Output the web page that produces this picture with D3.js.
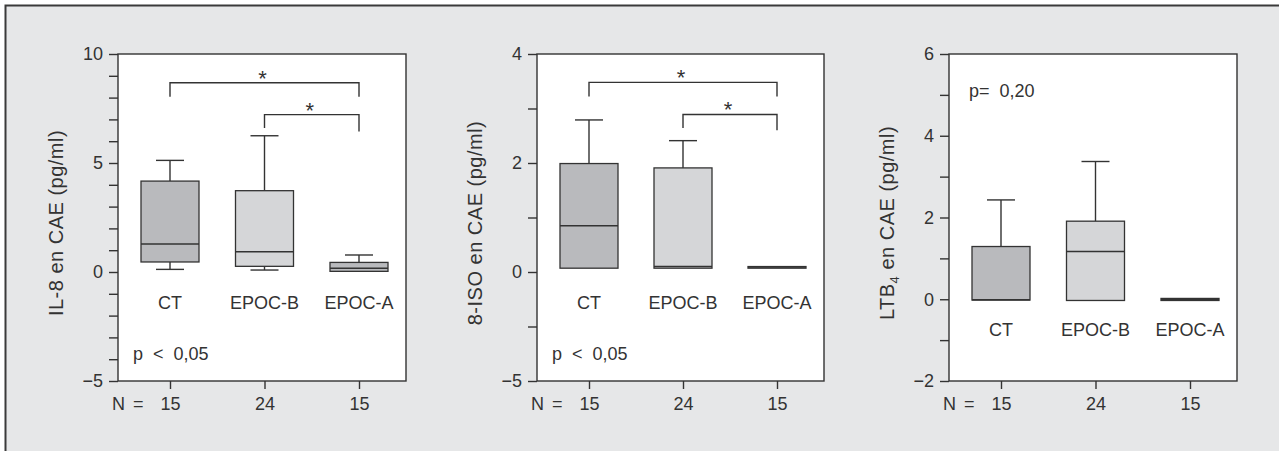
<!DOCTYPE html>
<html lang="es">
<head>
    <meta charset="UTF-8">
    <title>IL-8, 8-ISO y LTB4 en CAE</title>
    <script src="https://d3js.org/d3.v7.min.js"></script>
    <style>
        body { margin: 0; background: #fff; }
        text { font-family: "Liberation Sans", Arial, sans-serif; fill: #333; }
        .axis path, .axis line { stroke: #333; stroke-width: 1.4; }
        .axis text { font-size: 18px; fill: #333; }
    </style>
</head>
<body>
    <div id="chart"></div>

    <script>
        // Groups and sample sizes
        const groups = ["CT", "EPOC-B", "EPOC-A"];
        const nValues = [15, 24, 15];

        // IL-8 (pg/ml): whisker low, Q1, median, Q3, whisker high
        const il8Low = [0.12, 0.09, 0.03];
        const il8Q1 = [0.46, 0.26, 0.03];
        const il8Median = [1.28, 0.93, 0.17];
        const il8Q3 = [4.17, 3.73, 0.44];
        const il8High = [5.12, 6.25, 0.78];

        // 8-ISO (pg/ml)
        const isoLow = [0.07, 0.07, 0.07];
        const isoQ1 = [0.07, 0.07, 0.07];
        const isoMedian = [0.85, 0.10, 0.09];
        const isoQ3 = [1.99, 1.91, 0.10];
        const isoHigh = [2.79, 2.41, 0.10];

        // LTB4 (pg/ml)
        const ltbLow = [-0.02, -0.03, -0.03];
        const ltbQ1 = [-0.02, -0.03, -0.03];
        const ltbMedian = [-0.01, 1.17, 0.0];
        const ltbQ3 = [1.29, 1.91, 0.02];
        const ltbHigh = [2.43, 3.37, 0.02];

        // y domains and labelled ticks (the 8-ISO panel prints "–5" at its bottom tick)
        const il8Domain = [-5, 10];
        const il8TickValues = [10, 5, 0, -5];
        const il8TickLabels = ["10", "5", "0", "\u22125"];
        const isoDomain = [-2, 4];
        const isoTickValues = [4, 2, 0, -2];
        const isoTickLabels = ["4", "2", "0", "\u22125"];
        const ltbDomain = [-2, 6];
        const ltbTickValues = [6, 4, 2, 0, -2];
        const ltbTickLabels = ["6", "4", "2", "0", "\u22122"];

        // significance brackets: from group, to group, bar level, leg end at each side
        const il8Brackets = [
            ["CT", "EPOC-A", 8.68, 8.04, 8.04],
            ["EPOC-B", "EPOC-A", 7.22, 6.6, 6.45]
        ];
        const isoBrackets = [
            ["CT", "EPOC-A", 3.48, 3.22, 3.22],
            ["EPOC-B", "EPOC-A", 2.89, 2.64, 2.6]
        ];

        const fills = ["#b9babd", "#d5d6d8", "#b9babd"];

        const W = 1279, H = 451;
        const plotTop = 54, plotBottom = 381;

        const svg = d3.select("#chart")
            .append("svg")
            .attr("width", W)
            .attr("height", H);

        // gray background with frame on top and left
        svg.append("rect")
            .attr("x", 5).attr("y", 5)
            .attr("width", W).attr("height", H)
            .attr("fill", "#e6e7e8");
        svg.append("path")
            .attr("d", `M5.5,${H} V5.5 H${W}`)
            .attr("fill", "none")
            .attr("stroke", "#3a3a3a")
            .attr("stroke-width", 2);

        function drawPanel(opts) {
            const left = opts.left, right = opts.right;

            const x = d3.scalePoint()
                .domain(groups)
                .range([left + 52, right - 47]);

            const y = d3.scaleLinear()
                .domain(opts.domain)
                .range([plotBottom, plotTop]);

            const g = svg.append("g");

            // plot area
            g.append("rect")
                .attr("x", left).attr("y", plotTop)
                .attr("width", right - left).attr("height", plotBottom - plotTop)
                .attr("fill", "#fff")
                .attr("stroke", "#333")
                .attr("stroke-width", 1.4);

            // y axis: tick every unit, labels only on some
            const minor = d3.range(opts.domain[0], opts.domain[1] + 1);
            g.append("g")
                .attr("class", "axis")
                .attr("transform", `translate(${left},0)`)
                .call(d3.axisLeft(y)
                    .tickValues(minor)
                    .tickSize(9)
                    .tickPadding(6)
                    .tickFormat(d => {
                        const i = opts.tickValues.indexOf(d);
                        return i >= 0 ? opts.tickLabels[i] : "";
                    }))
                .call(a => a.select(".domain").remove());

            // bottom axis with N values
            g.append("g")
                .attr("class", "axis")
                .attr("transform", `translate(0,${plotBottom})`)
                .call(d3.axisBottom(x)
                    .tickSize(8)
                    .tickPadding(8)
                    .tickFormat((d, i) => nValues[i]))
                .call(a => a.select(".domain").remove());

            g.append("text")
                .attr("x", left - 6)
                .attr("y", 410)
                .style("font-size", "18px")
                .style("word-spacing", "3px")
                .text("N =");

            // boxes
            const rows = groups.map((grp, i) => ({
                grp, fill: fills[i],
                low: opts.low[i], q1: opts.q1[i], median: opts.median[i],
                q3: opts.q3[i], high: opts.high[i]
            }));
            const boxW = 58, capW = 28;

            const box = g.selectAll(".box")
                .data(rows)
                .enter().append("g")
                .attr("class", "box");

            // upper whisker
            box.filter(d => d.high > d.q3).append("line")
                .attr("x1", d => x(d.grp)).attr("x2", d => x(d.grp))
                .attr("y1", d => y(d.q3)).attr("y2", d => y(d.high))
                .attr("stroke", "#333").attr("stroke-width", 1.4);
            box.filter(d => d.high > d.q3).append("line")
                .attr("x1", d => x(d.grp) - capW / 2).attr("x2", d => x(d.grp) + capW / 2)
                .attr("y1", d => y(d.high)).attr("y2", d => y(d.high))
                .attr("stroke", "#333").attr("stroke-width", 1.4);

            // lower whisker
            box.filter(d => d.low < d.q1).append("line")
                .attr("x1", d => x(d.grp)).attr("x2", d => x(d.grp))
                .attr("y1", d => y(d.q1)).attr("y2", d => y(d.low))
                .attr("stroke", "#333").attr("stroke-width", 1.4);
            box.filter(d => d.low < d.q1).append("line")
                .attr("x1", d => x(d.grp) - capW / 2).attr("x2", d => x(d.grp) + capW / 2)
                .attr("y1", d => y(d.low)).attr("y2", d => y(d.low))
                .attr("stroke", "#333").attr("stroke-width", 1.4);

            box.append("rect")
                .attr("x", d => x(d.grp) - boxW / 2)
                .attr("y", d => y(d.q3))
                .attr("width", boxW)
                .attr("height", d => Math.max(y(d.q1) - y(d.q3), 1.2))
                .attr("fill", d => d.fill)
                .attr("stroke", "#333")
                .attr("stroke-width", 1.3);

            box.append("line")
                .attr("x1", d => x(d.grp) - boxW / 2).attr("x2", d => x(d.grp) + boxW / 2)
                .attr("y1", d => y(d.median)).attr("y2", d => y(d.median))
                .attr("stroke", "#333").attr("stroke-width", 1.5);

            // group names under the zero line
            g.selectAll(".grp")
                .data(groups)
                .enter().append("text")
                .attr("class", "grp")
                .attr("x", d => x(d))
                .attr("y", y(0) + 37)
                .attr("text-anchor", "middle")
                .style("font-size", "18px")
                .text(d => d);

            // significance brackets
            (opts.brackets || []).forEach(b => {
                const [from, to, level, legA, legB] = b;
                g.append("path")
                    .attr("d", `M${x(from)},${y(legA)} V${y(level)} H${x(to)} V${y(legB)}`)
                    .attr("fill", "none")
                    .attr("stroke", "#333")
                    .attr("stroke-width", 1.4);
                g.append("text")
                    .attr("x", (x(from) + x(to)) / 2 - 2)
                    .attr("y", y(level) + 3)
                    .attr("text-anchor", "middle")
                    .style("font-size", "22px")
                    .text("*");
            });

            // p value
            g.append("text")
                .attr("x", left + opts.pDx)
                .attr("y", opts.pY)
                .style("font-size", "18px")
                .style("word-spacing", "5px")
                .text(opts.pText);

            // y axis title
            const title = g.append("text")
                .attr("transform", `translate(${left - 55},${223}) rotate(-90)`)
                .attr("text-anchor", "middle")
                .style("font-size", "20px")
                .style("letter-spacing", "0.5px");
            opts.title(title);
        }

        drawPanel({
            left: 118, right: 406,
            domain: il8Domain, tickValues: il8TickValues, tickLabels: il8TickLabels,
            low: il8Low, q1: il8Q1, median: il8Median, q3: il8Q3, high: il8High,
            brackets: il8Brackets,
            pText: "p < 0,05", pDx: 15, pY: 360,
            title: t => t.text("IL-8 en CAE (pg/ml)")
        });

        drawPanel({
            left: 537, right: 824,
            domain: isoDomain, tickValues: isoTickValues, tickLabels: isoTickLabels,
            low: isoLow, q1: isoQ1, median: isoMedian, q3: isoQ3, high: isoHigh,
            brackets: isoBrackets,
            pText: "p < 0,05", pDx: 15, pY: 360,
            title: t => t.text("8-ISO en CAE (pg/ml)")
        });

        drawPanel({
            left: 949, right: 1237,
            domain: ltbDomain, tickValues: ltbTickValues, tickLabels: ltbTickLabels,
            low: ltbLow, q1: ltbQ1, median: ltbMedian, q3: ltbQ3, high: ltbHigh,
            brackets: [],
            pText: "p= 0,20", pDx: 20, pY: 97,
            title: t => {
                t.append("tspan").text("LTB");
                t.append("tspan").attr("dy", 5).style("font-size", "13px").text("4");
                t.append("tspan").attr("dy", -5).text(" en CAE (pg/ml)");
            }
        });
    </script>
</body>
</html>
